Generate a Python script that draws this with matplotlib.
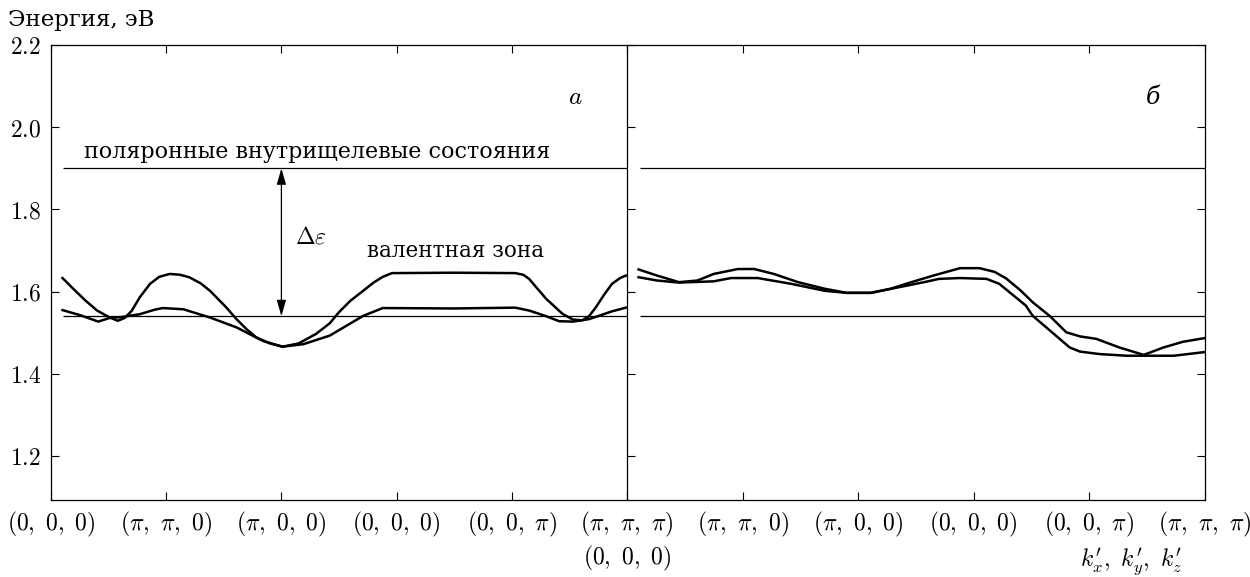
import numpy as np
import matplotlib
matplotlib.use('Agg')
import matplotlib.pyplot as plt

plt.rcParams['mathtext.fontset'] = 'cm'
plt.rcParams['font.family'] = ['DejaVu Serif']

# panel a: two valence band branches, x in path segments (0..5)
xa1 = [0.10, 0.20, 0.30, 0.40, 0.51, 0.58, 0.64, 0.70, 0.77, 0.86, 0.94, 1.03, 1.12, 1.20, 1.30, 1.38, 1.52, 1.61, 1.70,
       1.78, 1.90, 2.01, 2.15, 2.30, 2.42, 2.50, 2.60, 2.71, 2.80, 2.88, 2.96, 3.50, 4.03, 4.10, 4.15, 4.22, 4.30,
       4.44, 4.53, 4.61, 4.67, 4.73, 4.80, 4.87, 4.94, 4.99]
ya1 = [1.633, 1.605, 1.578, 1.554, 1.537, 1.529, 1.536, 1.553, 1.586, 1.619, 1.636, 1.643, 1.641, 1.635, 1.620, 1.602,
       1.562, 1.533, 1.508, 1.489, 1.474, 1.466, 1.474, 1.497, 1.523, 1.550, 1.578, 1.602, 1.622, 1.636, 1.645, 1.646,
       1.645, 1.641, 1.631, 1.608, 1.582, 1.546, 1.532, 1.530, 1.540, 1.562, 1.592, 1.619, 1.633, 1.639]
xa2 = [0.10, 0.25, 0.41, 0.51, 0.61, 0.77, 0.90, 0.97, 1.15, 1.38, 1.61, 1.84, 2.01,
       2.19, 2.42, 2.71, 2.88, 3.50, 4.03, 4.15, 4.30, 4.41, 4.53, 4.67, 4.87, 4.99]
ya2 = [1.555, 1.543, 1.527, 1.536, 1.538, 1.545, 1.556, 1.560, 1.557, 1.537, 1.513, 1.480, 1.466,
       1.472, 1.493, 1.541, 1.560, 1.559, 1.561, 1.554, 1.540, 1.528, 1.527, 1.533, 1.552, 1.561]

# panel b (5..10)
xb1 = [5.10, 5.26, 5.45, 5.61, 5.75, 5.96, 6.10, 6.27, 6.48, 6.71, 6.90, 7.11, 7.28, 7.46, 7.65, 7.88, 8.05,
       8.18, 8.28, 8.40, 8.51, 8.66, 8.80, 8.92, 9.06, 9.26, 9.47, 9.64, 9.81, 10.0]
yb1 = [1.654, 1.639, 1.623, 1.627, 1.643, 1.655, 1.655, 1.643, 1.623, 1.607, 1.597, 1.597, 1.607, 1.623, 1.639, 1.657, 1.657,
       1.648, 1.632, 1.604, 1.574, 1.540, 1.501, 1.491, 1.485, 1.464, 1.446, 1.464, 1.478, 1.487]
xb2 = [5.10, 5.26, 5.45, 5.75, 5.90, 6.13, 6.42, 6.71, 6.90, 7.11, 7.34, 7.57, 7.70, 7.88, 8.11, 8.22,
       8.45, 8.51, 8.66, 8.83, 8.92, 9.09, 9.32, 9.73, 10.0]
yb2 = [1.635, 1.627, 1.622, 1.625, 1.633, 1.633, 1.619, 1.602, 1.597, 1.597, 1.610, 1.623, 1.631, 1.633, 1.631, 1.619,
       1.566, 1.541, 1.505, 1.464, 1.454, 1.448, 1.444, 1.444, 1.453]

gap_level = 1.90      # polaron in-gap states
band_top = 1.54       # valence band top

ticks_a = [0, 1, 2, 3, 4, 5]
labels_a = [r'$(0,\ 0,\ 0)$', r'$(\pi,\ \pi,\ 0)$', r'$(\pi,\ 0,\ 0)$', r'$(0,\ 0,\ 0)$',
            r'$(0,\ 0,\ \pi)$', r'$(\pi,\ \pi,\ \pi)$' + '\n' + r'$(0,\ 0,\ 0)$']
ticks_b = [5, 6, 7, 8, 9, 10]
labels_b = ['', r'$(\pi,\ \pi,\ 0)$', r'$(\pi,\ 0,\ 0)$', r'$(0,\ 0,\ 0)$',
            r'$(0,\ 0,\ \pi)$', r'$(\pi,\ \pi,\ \pi)$']
yticks = [1.2, 1.4, 1.6, 1.8, 2.0, 2.2]

fs = 17
fig = plt.figure(figsize=(12.5, 5.77), dpi=100)
ax1 = fig.add_axes([51/1250, 1-500/577, (627-51)/1250, 455/577])
ax2 = fig.add_axes([627/1250, 1-500/577, (1205-627)/1250, 455/577], sharey=ax1)

for ax in (ax1, ax2):
    ax.set_ylim(1.093, 2.2)
    for s in ax.spines.values():
        s.set_linewidth(0.9)
    ax.tick_params(direction='in', length=6, width=0.8, labelsize=fs, top=True, pad=7)

ax1.set_xlim(0, 5)
ax2.set_xlim(5, 10)

for ax, xs, ys in [(ax1, xa1, ya1), (ax1, xa2, ya2), (ax2, xb1, yb1), (ax2, xb2, yb2)]:
    ax.plot(xs, ys, color='black', lw=1.8, solid_joinstyle='round')

ax1.hlines([gap_level, band_top], 0.1, 5, color='black', lw=0.9)
ax2.hlines([gap_level, band_top], 5.11, 10, color='black', lw=0.9)

ax1.set_xticks(ticks_a)
ax1.set_xticklabels(labels_a, linespacing=1.25, va='top')
ax2.set_xticks(ticks_b)
ax2.set_xticklabels(labels_b)
ax1.set_yticks(yticks)
ax1.set_yticklabels([r'$%.1f$' % v for v in yticks])
ax1.tick_params(axis='y', right=False)
ax2.tick_params(axis='y', left=True, right=True, labelleft=False)
ax1.spines['right'].set_visible(False)

# arrow for the gap
ax1.annotate('', xy=(2, band_top), xytext=(2, gap_level),
             arrowprops=dict(arrowstyle='<|-|>,head_length=0.7,head_width=0.2', color='black', lw=0.9,
                             mutation_scale=14, shrinkA=0, shrinkB=0))
ax1.text(2.12, 1.732, r'$\Delta\varepsilon$', fontsize=fs, va='center')
ax1.text(0.29, 1.939, 'поляронные внутрищелевые состояния', fontsize=16, va='center')
ax1.text(2.74, 1.70, 'валентная зона', fontsize=15.5, va='center')
ax1.text(4.55, 2.073, r'$a$', fontsize=fs + 1, ha='center', va='center')
ax2.text(9.55, 2.073, 'б', fontsize=fs, ha='center', va='center', style='italic')

fig.text(8/1250, 1-20/577, 'Энергия, эВ', fontsize=16.5, ha='left', va='center')
fig.text(1182/1250, 1-562/577, r"$k^{\prime}_{x},\ k^{\prime}_{y},\ k^{\prime}_{z}$",
         fontsize=fs, ha='right', va='center')

fig.savefig('out.png', dpi=100)
